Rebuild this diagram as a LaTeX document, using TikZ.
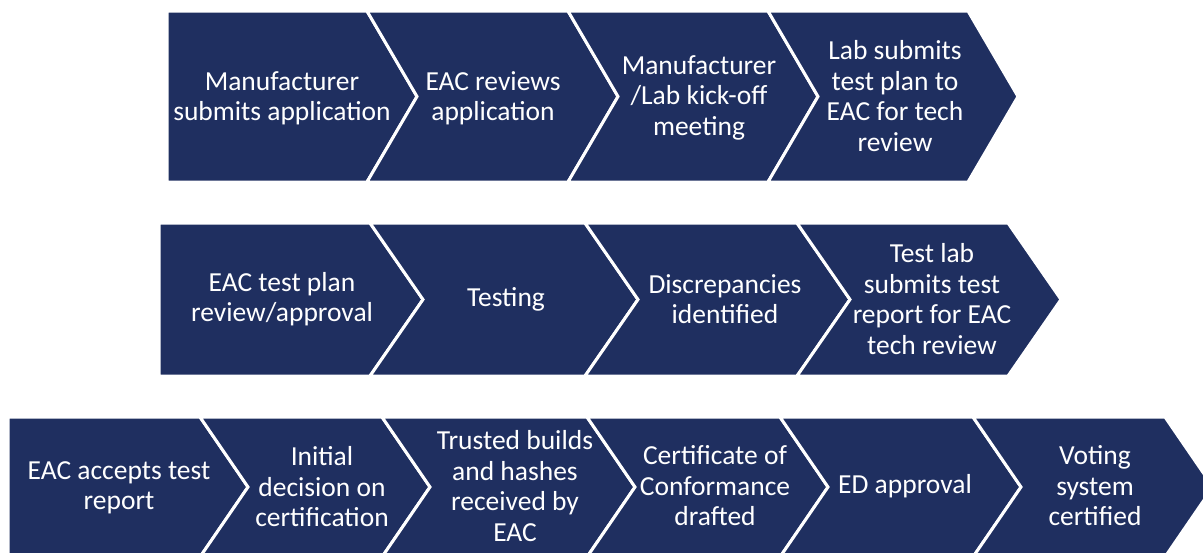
\documentclass[tikz,border=0pt]{standalone}
\usepackage{fontspec}
\setmainfont{Carlito}
\definecolor{navy}{RGB}{31,47,96}
\tikzset{
  chev/.style={fill=navy, draw=white, line width=3pt, line join=miter},
  lbl/.style={text=white, align=center, font=\fontsize{27.5pt}{30.5pt}\selectfont, inner sep=0pt}
}
% #1 left x, #2 right shoulder x, #3 depth, #4 top y, #5 bottom y, #6 first (1) or not (0)
\newcommand{\chevshape}[6]{%
  \pgfmathsetmacro{\ym}{(#4+#5)/2}%
  \ifnum#6=1
    \path[chev] (#1,#4) -- (#2,#4) -- ({#2+#3},\ym) -- (#2,#5) -- (#1,#5) -- cycle;
  \else
    \path[chev] (#1,#4) -- (#2,#4) -- ({#2+#3},\ym) -- (#2,#5) -- (#1,#5) -- ({#1+#3},\ym) -- cycle;
  \fi}
\begin{document}
\begin{tikzpicture}[x=1pt,y=-1pt]
\useasboundingbox (0,0) rectangle (1203,552);
\clip (0,0) rectangle (1203,552);
% Row 1
\chevshape{167}{367}{50}{11}{182}{1}
\chevshape{367}{568}{50}{11}{182}{0}
\chevshape{568}{768}{50}{11}{182}{0}
\chevshape{768}{968}{50}{11}{182}{0}
% Row 2
\chevshape{159}{370}{53}{223}{376}{1}
\chevshape{370}{585}{53}{223}{376}{0}
\chevshape{585}{797}{53}{223}{376}{0}
\chevshape{797}{1008}{53}{223}{376}{0}
% Row 3
\chevshape{8}{200}{48}{417}{557}{1}
\chevshape{200}{382}{48}{417}{557}{0}
\chevshape{382}{587}{48}{417}{557}{0}
\chevshape{587}{780}{48}{417}{557}{0}
\chevshape{780}{973}{48}{417}{557}{0}
\chevshape{973}{1165}{48}{417}{557}{0}
% Row 1 labels
\node[lbl] (a1) at (282,98.5) {Manufacturer\\submits application};
\node[lbl] (a2) at (493,98.5) {EAC reviews\\application};
\node[lbl] (a3) at (699,97.5) {Manufacturer\\/Lab kick-off\\meeting};
\node[lbl] (a4) at (895,96) {Lab submits\\test plan to\\EAC for tech\\review};
% Row 2 labels
\node[lbl] (b1) at (282,299) {EAC test plan\\review/approval};
\node[lbl] (b2) at (506,299) {Testing};
\node[lbl] (b3) at (725,299) {Discrepancies\\identified};
\node[lbl] (b4) at (932,299) {Test lab\\submits test\\report for EAC\\tech review};
% Row 3 labels
\node[lbl] (c1) at (119,488) {EAC accepts test\\report};
\node[lbl] (c2) at (322,487) {Initial\\decision on\\certification};
\node[lbl] (c3) at (515,486) {Trusted builds\\and hashes\\received by\\EAC};
\node[lbl] (c4) at (715,486) {Certificate of\\Conformance\\drafted};
\node[lbl] (c5) at (905,486) {ED approval};
\node[lbl] (c6) at (1095,486) {Voting\\system\\certified};
\end{tikzpicture}
\end{document}
